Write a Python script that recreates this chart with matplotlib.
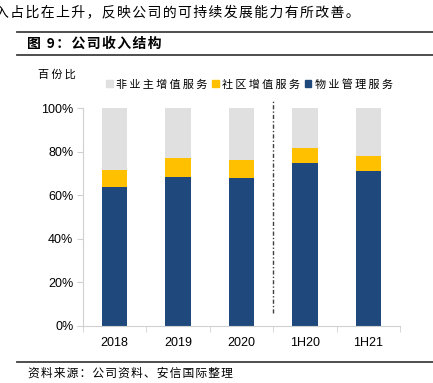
import matplotlib
matplotlib.use("Agg")
import matplotlib.pyplot as plt
from matplotlib.lines import Line2D
from matplotlib.patches import Patch
import numpy as np

plt.rcParams['font.family'] = ['Noto Sans CJK SC', 'DejaVu Sans']

# data (percent of revenue)
years = ["2018", "2019", "2020", "1H20", "1H21"]
property_mgmt = [63.9, 68.5, 68.0, 74.6, 71.2]   # 物业管理服务
community = [7.7, 8.7, 8.3, 6.9, 6.8]            # 社区增值服务
non_owner = [28.4, 22.8, 23.7, 18.5, 22.0]       # 非业主增值服务

navy = "#1F497D"
gold = "#FFC000"
grey = "#E0E0E0"


def spaced(s, gap="\u2009"):
    # loose letter spacing like the original report
    return gap.join(s)


fig = plt.figure(figsize=(4.33, 3.83), dpi=100)
ax = fig.add_axes([83/433, 1-326/383, 317/433, 218/383])

x = np.arange(len(years))
w = 0.4
pm = np.array(property_mgmt)
cm = np.array(community)
no = np.array(non_owner)
ax.bar(x, pm, w, color=navy, zorder=2)
ax.bar(x, cm, w, bottom=pm, color=gold, zorder=2)
ax.bar(x, no, w, bottom=pm+cm, color=grey, zorder=2)

# dashed separator between annual and half-year figures
ax.plot([2.5, 2.5], [6, 103], color="#404040", lw=1, ls=(0, (3, 1.5, 1, 1.5)), clip_on=False)

ax.set_xlim(-0.5, 4.5)
ax.set_ylim(0, 100)
ax.set_yticks(range(0, 101, 20))
ax.set_yticklabels([f"{v}%" for v in range(0, 101, 20)], family=['Liberation Sans'], fontsize=9)
ax.set_xticks(x)
ax.set_xticklabels(years, family=['Liberation Sans'], fontsize=9)
ax.set_xticks(np.arange(-0.5, 5, 1), minor=True)
ax.tick_params(axis='x', which='major', length=0, pad=8)
ax.tick_params(axis='x', which='minor', length=4, color="#d0d0d0")
ax.tick_params(axis='y', length=4, color="#d0d0d0", pad=3)
for s in ['top', 'right']:
    ax.spines[s].set_visible(False)
for s in ['left', 'bottom']:
    ax.spines[s].set_color("#d0d0d0")

fig.text(38/433, 1-78/383, spaced("百份比"), fontsize=8)

handles = [Patch(color=grey), Patch(color=gold), Patch(color=navy)]
labels = [spaced("非业主增值服务"), spaced("社区增值服务"), spaced("物业管理服务")]
fig.legend(handles, labels, loc='center left', bbox_to_anchor=(102/433, 1-84/383),
           ncol=3, frameon=False, fontsize=8, handlelength=0.6, handleheight=0.6,
           handletextpad=0.3, columnspacing=0.4, borderaxespad=0)

# header / footer text and rules
fig.text(-5/433, 1-12/383, spaced("入占比在上升，反映公司的可持续发展能力有所改善。", "\u200a"),
         fontsize=10, va='center')
fig.add_artist(Line2D([17/433, 1], [1-32/383, 1-32/383], color="#404040", lw=1.3))
fig.text(27/433, 1-44/383, spaced("图 9：公司收入结构", "\u200a"), fontsize=10, fontweight='bold', va='center')
fig.add_artist(Line2D([17/433, 1], [1-55/383, 1-55/383], color="#404040", lw=1.3))
fig.add_artist(Line2D([17/433, 1], [1-362/383, 1-362/383], color="#404040", lw=1.3))
fig.text(28/433, 1-373/383, spaced("资料来源：公司资料、安信国际整理", "\u200a"), fontsize=8.5,
         style='italic', va='center')

fig.savefig("out.png", dpi=100)
